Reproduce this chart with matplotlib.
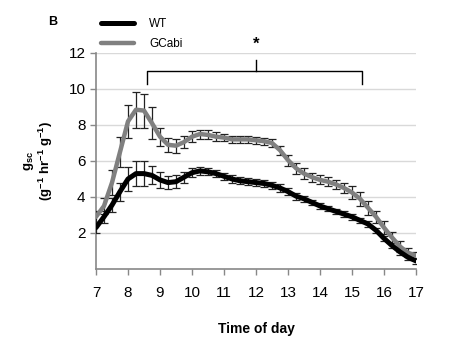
import matplotlib
matplotlib.use("Agg")
import matplotlib.pyplot as plt
import numpy as np

plt.rcParams["font.family"] = ["Liberation Sans", "DejaVu Sans"]
plt.rcParams["mathtext.default"] = "regular"

hours = [7.0, 7.25, 7.5, 7.75, 8.0, 8.25, 8.5, 8.75, 9.0, 9.25, 9.5, 9.75,
         10.0, 10.25, 10.5, 10.75, 11.0, 11.25, 11.5, 11.75, 12.0, 12.25, 12.5, 12.75,
         13.0, 13.25, 13.5, 13.75, 14.0, 14.25, 14.5, 14.75, 15.0, 15.25, 15.5, 15.75,
         16.0, 16.25, 16.5, 16.75, 17.0]

wt = [2.3, 2.9, 3.55, 4.3, 5.0, 5.3, 5.3, 5.2, 4.95, 4.8, 4.85, 5.1,
      5.35, 5.45, 5.4, 5.3, 5.15, 5.0, 4.9, 4.85, 4.8, 4.75, 4.65, 4.5,
      4.3, 4.05, 3.9, 3.7, 3.5, 3.35, 3.2, 3.05, 2.9, 2.7, 2.5, 2.15,
      1.7, 1.3, 0.95, 0.65, 0.45]
wt_err = [0.3, 0.35, 0.4, 0.5, 0.65, 0.7, 0.7, 0.5, 0.45, 0.35, 0.35, 0.3,
          0.25, 0.2, 0.2, 0.2, 0.2, 0.2, 0.2, 0.2, 0.2, 0.2, 0.2, 0.2,
          0.2, 0.2, 0.15, 0.15, 0.15, 0.15, 0.15, 0.15, 0.15, 0.15, 0.15, 0.15,
          0.15, 0.15, 0.15, 0.15, 0.15]

gcabi = [2.9, 3.5, 4.8, 6.5, 8.2, 8.85, 8.8, 8.1, 7.35, 6.9, 6.85, 7.05,
         7.35, 7.5, 7.45, 7.35, 7.3, 7.2, 7.2, 7.2, 7.15, 7.1, 7.0, 6.6,
         6.05, 5.6, 5.3, 5.1, 4.95, 4.85, 4.7, 4.5, 4.25, 3.9, 3.4, 2.9,
         2.3, 1.75, 1.25, 0.9, 0.75]
gcabi_err = [0.3, 0.45, 0.7, 0.85, 0.9, 1.0, 0.95, 0.9, 0.5, 0.4, 0.4, 0.35,
             0.3, 0.25, 0.25, 0.25, 0.2, 0.2, 0.2, 0.2, 0.2, 0.2, 0.2, 0.25,
             0.3, 0.3, 0.3, 0.25, 0.25, 0.25, 0.25, 0.3, 0.35, 0.4, 0.4, 0.35,
             0.35, 0.3, 0.3, 0.25, 0.2]

fig = plt.figure(figsize=(4.52, 3.42), dpi=100)
ax = fig.add_axes([96 / 452, 73 / 342, 320 / 452, 216 / 342])

for y, err, col, lw, lab in [(gcabi, gcabi_err, "#808080", 3.2, "GCabi"),
                              (wt, wt_err, "black", 3.6, "WT")]:
    ax.errorbar(hours, y, yerr=err, fmt="none", ecolor="#222222", elinewidth=0.9,
                capsize=2.8, capthick=0.9, zorder=3)
    ax.plot(hours, y, color=col, lw=lw, label=lab, zorder=4, solid_capstyle="round")

# significance bracket
bx0, bx1, by, bc = 8.6, 15.3, 11.0, 12.0
ax.plot([bx0, bx0, bx1, bx1], [10.3, by, by, 10.3], color="black", lw=1)
ax.plot([bc, bc], [by, 11.6], color="black", lw=1)
ax.text(bc, 12.05, "*", ha="center", va="bottom", fontsize=12, fontweight="bold")

ax.set_xlim(7, 17)
ax.set_ylim(0, 12)
ax.set_xticks(range(7, 18))
ax.set_yticks([2, 4, 6, 8, 10, 12])
ax.yaxis.grid(True, color="#d9d9d9", lw=1)
ax.set_axisbelow(True)
for s in ["top", "right"]:
    ax.spines[s].set_visible(False)
for s in ["left", "bottom"]:
    ax.spines[s].set_color("#888888")
    ax.spines[s].set_linewidth(1.2)
ax.tick_params(axis="both", colors="#888888", labelcolor="black", labelsize=11,
               length=4, width=1)
ax.tick_params(axis="x", pad=8)

ax.set_xlabel("Time of day", fontsize=10, fontweight="bold", labelpad=16)
ax.set_ylabel("g$_{sc}$\n(g$^{-1}$ hr$^{-1}$ g$^{-1}$)", fontsize=9.5,
              fontweight="bold", labelpad=10, linespacing=1.0)

handles, labels = ax.get_legend_handles_labels()
ax.legend(handles[::-1], labels[::-1], loc="lower left", bbox_to_anchor=(0.0, 0.99),
          frameon=False, fontsize=8.5, handlelength=2.8, handletextpad=1.3,
          labelspacing=0.7, borderaxespad=0)

fig.text(48 / 452, 1 - 22 / 342, "B", fontsize=9, fontweight="bold", va="center")

fig.savefig("out.png", dpi=100)
